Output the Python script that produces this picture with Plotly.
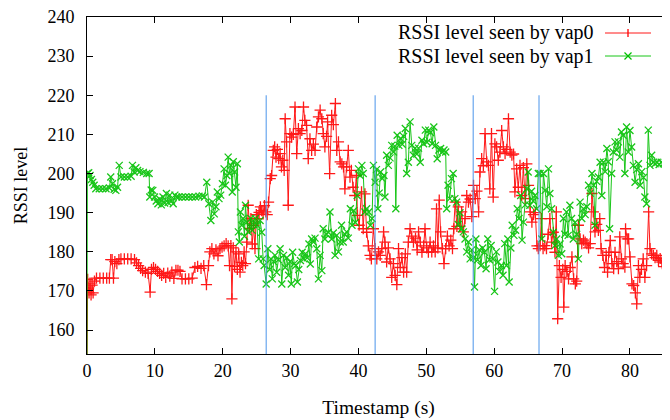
import plotly.graph_objects as go

# ---------------- data ----------------
vap0_t = [
    0, 0.1, 0.3, 0.45, 0.6, 0.75, 0.9, 1.1, 1.4, 1.9,
    2.4, 2.9, 3.3, 3.5, 3.7, 3.9, 4.1, 4.4, 4.7, 5.0,
    5.5, 6.0, 6.5, 7.0, 7.3, 7.6, 7.9, 8.2, 8.6, 9.0,
    9.3, 9.5, 9.8, 10.1, 10.4, 10.7, 11.0, 11.3, 11.6, 11.9,
    12.2, 12.5, 12.8, 13.1, 13.4, 13.7, 14.0, 14.5, 15.0, 15.5,
    15.9, 16.3, 16.8, 17.2, 17.6, 17.9, 18.1, 18.4, 18.7, 19.0,
    19.3, 19.6, 19.9, 20.2, 20.5, 20.8, 21.0, 21.2, 21.35, 21.55,
    21.75, 21.95, 22.15, 22.35, 22.55, 22.75, 22.95, 23.15, 23.35, 23.55,
    23.75, 23.95, 24.15, 24.35, 24.55, 24.75, 24.95, 25.15, 25.35, 25.55,
    25.75, 25.95, 26.15, 26.35, 26.55, 26.75, 27.0, 27.2, 27.45, 27.65,
    27.85, 28.05, 28.25, 28.45, 28.65, 28.85, 29.05, 29.2, 29.4, 29.65,
    29.9, 30.15, 30.4, 30.65, 30.9, 31.15, 31.4, 31.65, 31.9, 32.1,
    32.35, 32.6, 32.85, 33.1, 33.35, 33.6, 33.85, 34.1, 34.35, 34.6,
    34.8, 35.05, 35.3, 35.45, 35.75, 36.05, 36.3, 36.6, 36.8, 37.05,
    37.3, 37.55, 37.8, 38.0, 38.25, 38.5, 38.75, 38.95, 39.2, 39.45,
    39.7, 39.85, 40.1, 40.45, 40.7, 40.95, 41.2, 41.45, 41.7, 41.9,
    42.2, 42.45, 42.7, 42.95, 43.2, 43.45, 43.7, 43.9, 44.15, 44.4,
    44.65, 44.9, 45.15, 45.4, 45.65, 45.9, 46.15, 46.4, 46.65, 46.9,
    47.1, 47.35, 47.6, 47.85, 48.1, 48.4, 48.65, 48.85, 49.1, 49.35,
    49.6, 49.8, 50.05, 50.3, 50.55, 50.8, 51.05, 51.3, 51.5, 51.7,
    51.9, 52.1, 52.35, 52.6, 52.85, 53.1, 53.35, 53.6, 53.85, 54.05,
    54.25, 54.5, 54.7, 54.95, 55.2, 55.45, 55.7, 55.95, 56.2, 56.45,
    56.7, 56.95, 57.2, 57.45, 57.7, 57.9, 58.15, 58.4, 58.65, 58.9,
    59.15, 59.35, 59.6, 59.85, 60.1, 60.35, 60.6, 60.85, 61.1, 61.35,
    61.6, 61.85, 62.1, 62.35, 62.6, 62.85, 63.05, 63.3, 63.55, 63.8,
    64.05, 64.3, 64.55, 64.8, 65.05, 65.3, 65.55, 65.8, 66.05, 66.3,
    66.5, 66.75, 66.95, 67.2, 67.45, 67.7, 67.95, 68.2, 68.45, 68.7,
    68.95, 69.15, 69.35, 69.6, 69.85, 70.1, 70.25, 70.45, 70.7, 70.95,
    71.2, 71.45, 71.7, 71.95, 72.15, 72.4, 72.65, 72.9, 73.15, 73.4,
    73.65, 73.9, 74.15, 74.4, 74.6, 74.85, 75.1, 75.35, 75.55, 75.75,
    76.0, 76.25, 76.5, 76.7, 76.9, 77.1, 77.35, 77.6, 77.8, 78.05,
    78.3, 78.5, 78.75, 79.0, 79.25, 79.35, 79.6, 79.8, 80.0, 80.3,
    80.55, 80.8, 81.0, 81.25, 81.45, 81.7, 81.95, 82.2, 82.45, 82.75,
    82.95, 83.2, 83.45, 83.7, 83.95, 84.2, 84.45, 84.7, 84.95, 85.2,
    85.5, 85.8, 86.1,
]
vap0_rssi = [
    150, 173, 169.5, 172, 169, 171.5, 169.5, 172.5, 173.3, 173.3,
    173.3, 173.3, 173.3, 178, 178, 173.3, 177.5, 177, 178, 178.2,
    178.2, 178.2, 178.2, 178, 177.2, 176.5, 175.8, 175.2, 174.8, 174.5,
    169.7, 175.5, 176, 175.5, 175, 174.5, 174, 174.5, 173.5, 174.6,
    173.8, 174.8, 173.2, 175.3, 175.3, 175, 173.1, 173.1, 173.1, 173.3,
    176, 176.3, 175.8, 176.5, 171.6, 176.5, 180, 180.8, 179.5, 180.5,
    179, 180.8, 181.2, 181.5, 182.1, 181.5, 176.5, 181.6, 168, 181,
    176.3, 180, 175.5, 179.5, 174.8, 177.3, 176.5, 180, 177, 182.5,
    191.9, 186, 188.5, 182, 186.8, 180.8, 189.5, 188.5, 190.1, 191.5,
    190.5, 189.7, 191.8, 190.2, 189.5, 192.7, 198.7, 199.5, 205.9, 206.8,
    204.2, 206.2, 203.8, 205.1, 201.7, 203.4, 200.8, 214.0, 208.1, 191.9,
    210.2, 209.3, 210, 217.0, 205.1, 211.5, 210.2, 211, 217.0, 213.6,
    212.3, 203.8, 208.9, 205.9, 207.5, 205.9, 211.9, 214.5, 216.2, 214.0,
    210.2, 206.8, 209.5, 213.2, 200.0, 214.9, 212.5, 217.9, 205.9, 208.1,
    203, 202.5, 201.7, 196.1, 201.7, 205.9, 199.1, 200.8, 196.5, 194.4,
    199.5, 189.3, 186.8, 195.3, 185.9, 194.8, 185, 181.5, 179.1, 178.2,
    185.9, 180.8, 178.2, 180, 179.1, 180.8, 185.1, 182.5, 177.4, 181,
    178.2, 173.5, 177, 174, 171.6, 180.8, 176, 178.5, 174.8, 179.5,
    174.8, 182.5, 185.9, 184, 182.5, 183.5, 180.5, 185.1, 182.5, 179.9,
    181.5, 185.9, 181, 179.9, 182.5, 180, 181.5, 180, 191.0, 181,
    193.2, 185.1, 180.8, 177.0, 180.8, 184, 181.5, 183, 180.8, 185.9,
    192.7, 186.5, 191.5, 186.5, 190.2, 185.1, 188.5, 194.4, 192.7, 193.5,
    189, 197, 193.6, 195.5, 190.2, 200.4, 203.8, 202, 210.2, 203,
    202.1, 196.1, 210.2, 194.0, 207.6, 206.8, 203.4, 205.5, 211.0, 206.8,
    205.1, 206.2, 214.0, 205.5, 204.7, 205, 195.3, 201.2, 196.5, 202.1,
    194.4, 201.5, 193.6, 202.5, 197, 190.2, 187.6, 189.5, 190, 181.5,
    180.8, 181.6, 188.5, 180.8, 181.6, 180.8, 184.5, 188.5, 182.5, 185,
    179.9, 190.2, 162.9, 176.5, 173.5, 175.5, 165.9, 176.5, 175, 173.1,
    176, 178.7, 173.1, 171.8, 172.5, 186.8, 183.3, 182.1, 183, 182.5,
    182.1, 181, 182.1, 194.9, 190.2, 185.1, 187, 185.5, 188.5, 180.8,
    179.1, 176, 179.1, 174.8, 179.9, 182.9, 177, 175.7, 179.9, 177.5,
    175.7, 183.8, 178.2, 177, 176.1, 185.9, 183.3, 183.3, 178.7, 171.8,
    171.4, 169.5, 166.7, 176.5, 173.5, 175.5, 178.2, 173.5, 176.5, 190.2,
    180.8, 179.5, 179.1, 178.5, 179.1, 177.8, 178.3, 177.4, 176.2, 177.2,
    175.7, 176.8, 177,
]

vap1_t = [
    0, 0.05, 0.25, 0.45, 0.65, 0.85, 1.05, 1.3, 1.8, 2.3,
    2.8, 3.3, 3.5, 3.75, 4.0, 4.25, 4.5, 4.75, 5.0, 5.5,
    6.0, 6.5, 6.7, 6.95, 7.2, 7.45, 7.8, 8.3, 8.8, 9.15,
    9.25, 9.45, 9.7, 9.95, 10.2, 10.45, 10.7, 10.95, 11.2, 11.45,
    11.7, 11.95, 12.2, 12.45, 12.7, 12.95, 13.2, 13.5, 14.0, 14.5,
    15.0, 15.5, 16.0, 16.5, 17.0, 17.3, 17.65, 17.95, 18.25, 18.5,
    18.75, 19.0, 19.2, 19.45, 19.7, 19.95, 20.2, 20.4, 20.6, 20.8,
    21.0, 21.2, 21.4, 21.55, 21.75, 21.95, 22.15, 22.3, 22.45, 22.6,
    22.8, 23.0, 23.2, 23.35, 23.55, 23.75, 23.95, 24.15, 24.35, 24.55,
    24.8, 25.05, 25.3, 25.5, 25.75, 25.95, 26.1, 26.4, 26.65, 26.9,
    27.1, 27.3, 27.5, 27.7, 27.95, 28.2, 28.45, 28.7, 28.95, 29.2,
    29.45, 29.7, 29.9, 30.1, 30.3, 30.55, 30.75, 31.0, 31.2, 31.45,
    31.7, 31.95, 32.2, 32.45, 32.7, 32.9, 33.1, 33.35, 33.6, 33.85,
    34.1, 34.35, 34.6, 34.8, 35.05, 35.3, 35.55, 35.8, 36.05, 36.3,
    36.55, 36.8, 37.05, 37.3, 37.5, 37.75, 38.0, 38.25, 38.5, 38.8,
    39.05, 39.3, 39.55, 39.8, 40.0, 40.25, 40.5, 40.7, 40.95, 41.2,
    41.5, 41.75, 42.0, 42.2, 42.45, 42.65, 42.85, 43.05, 43.25, 43.5,
    43.75, 43.9, 44.15, 44.4, 44.65, 44.9, 45.15, 45.35, 45.5, 45.7,
    45.95, 46.2, 46.45, 46.65, 46.9, 47.1, 47.35, 47.6, 47.85, 48.1,
    48.35, 48.6, 48.85, 49.1, 49.35, 49.6, 49.85, 50.1, 50.35, 50.6,
    50.85, 51.1, 51.35, 51.6, 51.85, 52.1, 52.35, 52.6, 52.85, 53.0,
    53.2, 53.45, 53.7, 53.95, 54.2, 54.45, 54.7, 54.95, 55.2, 55.45,
    55.7, 55.95, 56.2, 56.45, 56.7, 56.95, 57.1, 57.3, 57.55, 57.8,
    58.05, 58.3, 58.55, 58.8, 59.05, 59.3, 59.55, 59.8, 60.05, 60.3,
    60.55, 60.8, 61.05, 61.3, 61.55, 61.8, 62.0, 62.2, 62.45, 62.65,
    62.9, 63.15, 63.4, 63.65, 63.9, 64.1, 64.3, 64.55, 64.8, 65.0,
    65.25, 65.5, 65.75, 66.0, 66.25, 66.5, 66.75, 67.0, 67.25, 67.5,
    67.75, 68.0, 68.2, 68.45, 68.7, 68.95, 69.2, 69.45, 69.7, 69.95,
    70.2, 70.4, 70.65, 70.9, 71.15, 71.4, 71.65, 71.9, 72.15, 72.4,
    72.65, 72.9, 73.15, 73.4, 73.65, 73.9, 74.15, 74.4, 74.65, 74.85,
    75.1, 75.35, 75.6, 75.85, 76.1, 76.35, 76.6, 76.8, 77.0, 77.3,
    77.55, 77.8, 78.05, 78.3, 78.5, 78.75, 79.0, 79.25, 79.5, 79.75,
    80.0, 80.25, 80.5, 80.75, 81.0, 81.25, 81.5, 81.75, 82.0, 82.2,
    82.45, 82.7, 82.95, 83.2, 83.45, 83.7, 84.0, 84.3, 84.6, 84.9,
    85.2, 85.5, 85.8, 86.1,
]
vap1_rssi = [
    150, 200, 200.2, 199.5, 198.5, 197.8, 197, 196.1, 196.1, 196.1,
    196.1, 196.3, 199.1, 197.4, 196, 195.7, 196.5, 202.1, 199.1, 199.1,
    199.1, 199.3, 202.1, 200.4, 201.5, 200.8, 200.5, 200.3, 200, 200,
    194.0, 195.8, 195.7, 194, 193, 192.3, 193.5, 192, 194, 192.5,
    194.9, 192.6, 194.5, 193, 192.3, 194.5, 194, 194, 194, 194,
    194, 194, 194, 194.2, 194.3, 194, 197.8, 192.3, 188.0, 192.7,
    189.7, 191.5, 195.3, 193.6, 194.5, 197.4, 201.2, 197, 199.5, 204.2,
    200, 202.1, 195.3, 203, 200.4, 196.5, 202.5, 185.1, 182.5, 190.2,
    186.8, 188.5, 184, 191.9, 187.6, 185.1, 186.5, 188.5, 185.5, 187,
    188.5, 186.8, 178.2, 188, 185, 178.2, 176.5, 171.8, 180.8, 175.5,
    178.2, 173.1, 177.5, 179.1, 174.8, 178, 180.8, 171.8, 179.1, 176,
    178.5, 174.0, 177.5, 171.8, 179.9, 177, 176.5, 172.3, 175.5, 177.8,
    179.9, 178.2, 179.5, 178.5, 182, 176.9, 183.3, 182.5, 183.5, 180.8,
    173.1, 179.1, 175.2, 185.9, 183.3, 184.5, 185, 190.2, 183.3, 184.8,
    179.1, 184.2, 180, 182.5, 186.8, 182.5, 184.5, 185.1, 183.5, 191,
    186.8, 190.5, 187.5, 194.4, 201.2, 199.5, 202.1, 200, 190.2, 191,
    190.2, 186.8, 188.5, 202.1, 197.8, 201, 191, 195, 200.4, 198.7,
    199.5, 194.0, 204.7, 202.1, 204, 207.2, 205.5, 207, 191.0, 209.8,
    207.2, 209, 207.5, 209.5, 211.5, 200.0, 202.9, 213.2, 207.2, 204.7,
    206.5, 205, 206.5, 202.9, 208.5, 207.6, 211.1, 208, 211.1, 210.5,
    207.6, 211.9, 207.2, 203.8, 206, 206.4, 205.5, 206, 205.5, 191,
    197, 193.6, 198.7, 200.0, 193.6, 192.7, 187, 190, 185.9, 185.1,
    183.3, 180, 182.5, 178.2, 180.5, 178.5, 171.0, 183.3, 178, 180.5,
    176.5, 181, 179.9, 175.7, 183.3, 178, 181.6, 178.2, 169.9, 180,
    177.4, 175, 176.5, 174.0, 182.1, 176.5, 183.3, 172.3, 181, 186.8,
    184.2, 185.5, 191, 188.5, 194.4, 183, 187.6, 192, 196.1, 200.4,
    191.9, 195.5, 193, 194.4, 191, 200.0, 200.0, 183.3, 200, 195.7,
    191.5, 201.2, 194.9, 191, 185, 181.6, 183.3, 179.1, 182, 179.5,
    188.5, 184.5, 190.2, 184.2, 191.9, 188.5, 183.3, 187.5, 184.5, 178.2,
    192.7, 188.5, 191, 189.5, 191.5, 197, 195, 200, 197, 186.8,
    198, 199.1, 202.9, 194.4, 202.9, 200.5, 206.4, 203, 185.9, 200.0,
    205.5, 208.1, 206, 208.1, 204.2, 210.6, 209.8, 200.0, 211.9, 205.5,
    211, 206.8, 202.1, 197.8, 201, 202.5, 197, 200.5, 199, 194.0,
    192.3, 211.1, 202.1, 204.7, 202.9, 202.5, 202.9, 202.3, 202.9, 202.5,
    202.9, 202.5, 202.9, 202.7,
]
assert len(vap0_t) == len(vap0_rssi) and len(vap1_t) == len(vap1_rssi)

event_times = [26.4, 42.45, 56.9, 66.6]
event_top = 220

series_names = ["RSSI level seen by vap0", "RSSI level seen by vap1"]
x_ticks = [0, 10, 20, 30, 40, 50, 60, 70, 80]
y_ticks = [160, 170, 180, 190, 200, 210, 220, 230, 240]
x_range = [0, 85.9]
y_range = [153.9, 240]

# ---------------- style ----------------
# The page body has an 8px default margin, so the figure is drawn 8px
# smaller and all page-pixel targets are shifted by that offset.
OFF = 8
W, H = 670 - OFF, 420 - OFF
ML, MR, MT, MB = 87 - OFF, 0, 17 - OFF, 66
FONT = "Liberation Serif, Times New Roman, serif"
FS = 18
RED = "#ff0000"
GREEN = "#00c000"
BLUE = "#4a94ea"

fig = go.Figure()
fig.add_trace(go.Scatter(
    x=vap0_t, y=vap0_rssi, mode="lines+markers", name=series_names[0],
    line=dict(color=RED, width=1),
    marker=dict(symbol="cross-thin", size=8, line=dict(color=RED, width=1.3)),
    opacity=0.9, showlegend=False,
))
fig.add_trace(go.Scatter(
    x=vap1_t, y=vap1_rssi, mode="lines+markers", name=series_names[1],
    line=dict(color=GREEN, width=1),
    marker=dict(symbol="x-thin", size=7, line=dict(color=GREEN, width=1.3)),
    opacity=0.9, showlegend=False,
))

shapes = []
for t in event_times:
    shapes.append(dict(type="line", xref="x", yref="y", x0=t, x1=t,
                       y0=y_range[0], y1=event_top,
                       line=dict(color=BLUE, width=1)))

# custom gnuplot-style key (text right-aligned, sample on the right)
pw = W - ML - MR
ph = H - MT - MB
def px(xpage):
    return (xpage - OFF - ML) / pw
def py(ypage):
    return (H - MB - (ypage - OFF)) / ph

key_rows = [33, 56]
key_text_right = 596
key_line = (605, 651)
key_mark = 628
annotations = []
for i, (name, col) in enumerate(zip(series_names, [RED, GREEN])):
    yr = key_rows[i]
    annotations.append(dict(text=name, xref="paper", yref="paper",
                            x=px(key_text_right), y=py(yr), xanchor="right",
                            yanchor="middle", showarrow=False,
                            font=dict(family=FONT, size=20, color="black")))
    shapes.append(dict(type="line", xref="paper", yref="paper",
                       x0=px(key_line[0]), x1=px(key_line[1]), y0=py(yr), y1=py(yr),
                       line=dict(color=col, width=1), opacity=0.9))
    if i == 0:
        shapes.append(dict(type="line", xref="paper", yref="paper",
                           x0=px(key_mark), x1=px(key_mark), y0=py(yr - 4), y1=py(yr + 4),
                           line=dict(color=col, width=1.3)))
    else:
        for d in (1, -1):
            shapes.append(dict(type="line", xref="paper", yref="paper",
                               x0=px(key_mark - 3.5), x1=px(key_mark + 3.5),
                               y0=py(yr - 3.5 * d), y1=py(yr + 3.5 * d),
                               line=dict(color=col, width=1.3)))

axis_common = dict(showgrid=False, zeroline=False, ticks="inside", ticklen=6,
                   tickwidth=1, tickcolor="black", linecolor="black", linewidth=1,
                   ticklabeloverflow="allow",
                   tickfont=dict(family=FONT, size=FS, color="black"))

fig.update_layout(
    width=W, height=H,
    margin=dict(l=ML, r=MR, t=MT, b=MB, pad=0),
    paper_bgcolor="white", plot_bgcolor="white",
    font=dict(family=FONT, size=FS, color="black"),
    xaxis=dict(range=x_range, tickvals=x_ticks, showline=True, mirror="ticks",
               title=dict(text="Timestamp (s)", font=dict(family=FONT, size=19.5), standoff=20),
               **axis_common),
    yaxis=dict(range=y_range, tickvals=y_ticks, showline=True, mirror=False,
               ticklabelstandoff=8,
               title=dict(text="RSSI level", font=dict(family=FONT, size=FS), standoff=15),
               **axis_common),
    yaxis2=dict(range=y_range, tickvals=y_ticks, overlaying="y", side="right",
                anchor="x", showline=False, showticklabels=False,
                **axis_common),
    shapes=shapes,
    annotations=annotations,
    showlegend=False,
)

fig.write_html("out.html")
